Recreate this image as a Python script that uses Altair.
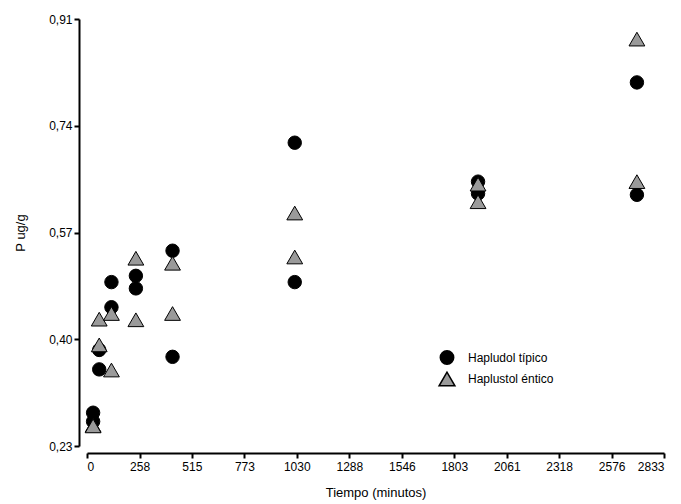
import altair as alt
import pandas as pd

# Sampling times (minutes) and P (ug/g) for each soil, two replicates per time
tiempo = [30, 30, 60, 60, 120, 120, 240, 240, 420, 420, 1020, 1020, 1920, 1920, 2700, 2700]
p_hapludol = [0.283, 0.269, 0.383, 0.352, 0.491, 0.451, 0.501, 0.481, 0.541, 0.372,
              0.713, 0.491, 0.651, 0.632, 0.809, 0.630]
p_haplustol = [0.263, 0.262, 0.391, 0.432, 0.441, 0.351, 0.529, 0.431, 0.521, 0.441,
               0.601, 0.531, 0.647, 0.619, 0.878, 0.651]

suelos = ["Hapludol típico", "Haplustol éntico"]
x_ticks = [0, 258, 515, 773, 1030, 1288, 1546, 1803, 2061, 2318, 2576, 2833]
y_ticks = [0.23, 0.40, 0.57, 0.74, 0.91]

df = pd.concat([
    pd.DataFrame({"tiempo": tiempo, "p": p_hapludol, "suelo": suelos[0]}),
    pd.DataFrame({"tiempo": tiempo, "p": p_haplustol, "suelo": suelos[1]}),
], ignore_index=True)

FONT = "Liberation Sans"

chart = alt.Chart(df).mark_point(
    filled=True, stroke="black", strokeWidth=1, opacity=1
).encode(
    x=alt.X("tiempo:Q",
            scale=alt.Scale(domain=[0, 2833], nice=False, zero=False),
            axis=alt.Axis(values=x_ticks, format="d", title="Tiempo (minutos)", offset=7,
                          labelPadding=3, titlePadding=14)),
    y=alt.Y("p:Q",
            scale=alt.Scale(domain=[0.23, 0.91], nice=False, zero=False),
            axis=alt.Axis(values=y_ticks, title="P ug/g", offset=8,
                          labelExpr="replace(format(datum.value, '.2f'), '.', ',')",
                          labelPadding=2, titlePadding=21)),
    shape=alt.Shape("suelo:N", scale=alt.Scale(domain=suelos, range=["circle", "triangle-up"]),
                    legend=alt.Legend(title=None, orient="none", legendX=351, legendY=331)),
    fill=alt.Fill("suelo:N", scale=alt.Scale(domain=suelos, range=["#000000", "#9a9a9a"])),
    size=alt.Size("suelo:N", scale=alt.Scale(domain=suelos, range=[180, 250])),
).properties(
    width=577,
    height=427,
    autosize=alt.AutoSizeParams(type="none"),
    padding={"left": 87, "top": 19, "right": 17, "bottom": 58},
).configure_view(
    stroke=None
).configure_axis(
    grid=False,
    domainColor="black",
    domainWidth=2,
    tickColor="black",
    tickWidth=2,
    tickSize=5,
    labelFont=FONT,
    labelFontSize=12,
    labelColor="black",
    titleFont=FONT,
    titleFontSize=13,
    titleFontWeight="normal",
    titleColor="black",
).configure_legend(
    labelFont=FONT,
    labelFontSize=12,
    labelColor="black",
    rowPadding=1,
    labelOffset=12,
)

chart.save("out.html", embed_options={"renderer": "svg", "actions": False})
